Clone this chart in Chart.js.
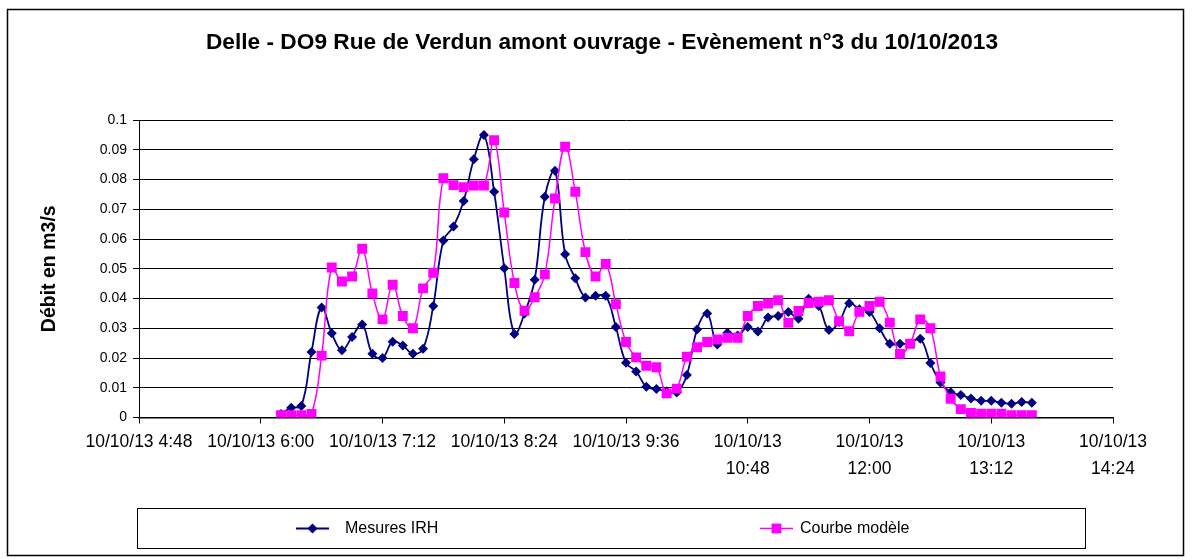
<!DOCTYPE html>
<html lang="fr">
<head>
<meta charset="utf-8">
<title>Delle - DO9 Rue de Verdun</title>
<script src="https://cdn.jsdelivr.net/npm/chart.js@4.4.0/dist/chart.umd.min.js"></script>
<style>
  html, body { margin: 0; padding: 0; background: #fff; }
  #cadre { position: relative; width: 1192px; height: 559px; }
</style>
</head>
<body>
<div id="cadre"><canvas id="graphique"></canvas></div>
<script>
const titre = "Delle - DO9 Rue de Verdun amont ouvrage - Evènement n°3 du 10/10/2013";
const titreAxeY = "Débit en m3/s";
const dateEvenement = "10/10/13";

// pas de 6 minutes entre deux mesures
const heures = [
  "6:12", "6:18", "6:24", "6:30", "6:36", "6:42", "6:48", "6:54",
  "7:00", "7:06", "7:12", "7:18", "7:24", "7:30", "7:36", "7:42", "7:48", "7:54",
  "8:00", "8:06", "8:12", "8:18", "8:24", "8:30", "8:36", "8:42", "8:48", "8:54",
  "9:00", "9:06", "9:12", "9:18", "9:24", "9:30", "9:36", "9:42", "9:48", "9:54",
  "10:00", "10:06", "10:12", "10:18", "10:24", "10:30", "10:36", "10:42", "10:48", "10:54",
  "11:00", "11:06", "11:12", "11:18", "11:24", "11:30", "11:36", "11:42", "11:48", "11:54",
  "12:00", "12:06", "12:12", "12:18", "12:24", "12:30", "12:36", "12:42", "12:48", "12:54",
  "13:00", "13:06", "13:12", "13:18", "13:24", "13:30", "13:36"
];

const mesuresIRH = [
  0.0012, 0.0033, 0.0039, 0.022, 0.037, 0.0283, 0.0226, 0.0271, 0.0313, 0.0214,
  0.020, 0.0255, 0.0242, 0.0214, 0.0231, 0.0375, 0.0595, 0.0642, 0.0728, 0.0868,
  0.095, 0.0759, 0.0502, 0.0281, 0.035, 0.0463, 0.0742, 0.0829, 0.0549, 0.0468,
  0.0403, 0.0409, 0.0409, 0.0304, 0.0184, 0.0155, 0.0103, 0.0096, 0.0088, 0.0084,
  0.0143, 0.0296, 0.035, 0.0245, 0.0285, 0.0276, 0.0304, 0.0289, 0.0336, 0.0341,
  0.0355, 0.0332, 0.0399, 0.0375, 0.0294, 0.0321, 0.0384, 0.0364, 0.0355, 0.030,
  0.0248, 0.0248, 0.0249, 0.0265, 0.0183, 0.0118, 0.0085, 0.0076, 0.0064, 0.0056,
  0.0056, 0.005, 0.0046, 0.0052, 0.005
];

const courbeModele = [
  0.0008, 0.0008, 0.0008, 0.0012, 0.0208, 0.0504, 0.0457, 0.0474, 0.0567, 0.0417,
  0.033, 0.0446, 0.0341, 0.030, 0.0434, 0.0486, 0.0804, 0.0781, 0.0774, 0.078,
  0.078, 0.0932, 0.0689, 0.0452, 0.0359, 0.0404, 0.0481, 0.0736, 0.091, 0.0759,
  0.0556, 0.0474, 0.0516, 0.0381, 0.0254, 0.0202, 0.0174, 0.0169, 0.0081, 0.0097,
  0.0204, 0.0236, 0.0254, 0.0262, 0.0268, 0.0268, 0.0341, 0.0375, 0.0383, 0.0394,
  0.0318, 0.0358, 0.0385, 0.0389, 0.0394, 0.0324, 0.029, 0.0355, 0.0375, 0.0389,
  0.0319, 0.0214, 0.0248, 0.033, 0.030, 0.0138, 0.0063, 0.0028, 0.0015, 0.0013,
  0.0013, 0.0013, 0.0008, 0.0008, 0.0008
];

const graduationsX = ["4:48", "6:00", "7:12", "8:24", "9:36", "10:48", "12:00", "13:12", "14:24"];
const graduationsY = [0, 0.01, 0.02, 0.03, 0.04, 0.05, 0.06, 0.07, 0.08, 0.09, 0.1];

const police = '"Liberation Sans", Arial, sans-serif';

function enMinutes(h) {
  const [hh, mm] = h.split(":").map(Number);
  return hh * 60 + mm;
}

function enPoints(valeurs) {
  return valeurs.map((v, i) => ({ x: enMinutes(heures[i]), y: v }));
}

// cadre, titre et légende dessinés autour du graphe
const habillage = {
  id: "habillage",
  afterDraw(chart) {
    const ctx = chart.ctx;
    ctx.save();
    ctx.strokeStyle = "#000";
    ctx.lineWidth = 1.5;
    ctx.strokeRect(7.5, 9.5, 1176, 546);

    ctx.fillStyle = "#000";
    ctx.font = "bold 22.7px " + police;
    ctx.textAlign = "center";
    ctx.textBaseline = "middle";
    ctx.fillText(titre, 602, 43);

    // boîte de légende
    ctx.lineWidth = 1;
    ctx.strokeRect(137.5, 508.5, 948, 40);
    const traits = [296, 760];
    const textes = [345, 800];
    chart.data.datasets.forEach((ds, i) => {
      const x0 = traits[i], y0 = 528.5;
      ctx.strokeStyle = ds.borderColor;
      ctx.lineWidth = ds.borderWidth;
      ctx.beginPath();
      ctx.moveTo(x0, y0);
      ctx.lineTo(x0 + 33, y0);
      ctx.stroke();
      ctx.fillStyle = ds.pointBackgroundColor;
      const cx = x0 + 16.5, r = ds.pointRadius;
      ctx.beginPath();
      if (ds.pointStyle === "rectRot") {
        ctx.moveTo(cx, y0 - r);
        ctx.lineTo(cx + r, y0);
        ctx.lineTo(cx, y0 + r);
        ctx.lineTo(cx - r, y0);
        ctx.closePath();
      } else {
        const c = r * Math.SQRT1_2;
        ctx.rect(cx - c, y0 - c, 2 * c, 2 * c);
      }
      ctx.fill();
      ctx.fillStyle = "#000";
      ctx.font = "16px " + police;
      ctx.textAlign = "left";
      ctx.fillText(ds.label, textes[i], y0);
    });
    ctx.restore();
  }
};

new Chart(document.getElementById("graphique"), {
  type: "line",
  data: {
    datasets: [
      {
        label: "Mesures IRH",
        data: enPoints(mesuresIRH),
        borderColor: "#000080",
        backgroundColor: "#000080",
        pointBackgroundColor: "#000080",
        pointBorderColor: "#000080",
        borderWidth: 1.8,
        pointStyle: "rectRot",
        pointRadius: 5,
        pointBorderWidth: 0,
        tension: 0.4,
        order: 1
      },
      {
        label: "Courbe modèle",
        data: enPoints(courbeModele),
        borderColor: "#FF00FF",
        backgroundColor: "#FF00FF",
        pointBackgroundColor: "#FF00FF",
        pointBorderColor: "#FF00FF",
        borderWidth: 1.5,
        pointStyle: "rect",
        pointRadius: 7,
        pointBorderWidth: 0,
        tension: 0.4,
        order: 0
      }
    ]
  },
  options: {
    responsive: true,
    maintainAspectRatio: false,
    animation: false,
    layout: { padding: { top: 120, right: 79, bottom: 0, left: 0 } },
    plugins: {
      legend: { display: false },
      title: { display: false },
      tooltip: { enabled: false }
    },
    scales: {
      x: {
        type: "linear",
        min: enMinutes(graduationsX[0]),
        max: enMinutes(graduationsX[graduationsX.length - 1]),
        afterFit: (axe) => { axe.height = 141.5; },
        afterBuildTicks: (axe) => {
          axe.ticks = graduationsX.map((g) => ({ value: enMinutes(g) }));
        },
        border: { display: true, color: "#000", width: 1.5 },
        grid: { drawOnChartArea: false, drawTicks: true, tickLength: 6, color: "#000" },
        ticks: {
          autoSkip: false,
          maxRotation: 0,
          minRotation: 0,
          padding: 5,
          color: "#000",
          font: { family: police, size: 17.5, lineHeight: 1.55 },
          callback: (valeur) => {
            const g = graduationsX.find((h) => enMinutes(h) === valeur);
            if (!g) return "";
            return valeur >= 600 ? [dateEvenement, g] : dateEvenement + " " + g;
          }
        }
      },
      y: {
        min: graduationsY[0],
        max: graduationsY[graduationsY.length - 1],
        afterFit: (axe) => { axe.width = 139; },
        afterBuildTicks: (axe) => {
          axe.ticks = graduationsY.map((v) => ({ value: v }));
        },
        border: { display: true, color: "#000", width: 1 },
        grid: { color: "#000", lineWidth: 1, drawTicks: true, tickLength: 6 },
        ticks: {
          padding: 6,
          color: "#000",
          font: { family: police, size: 14 },
          callback: (v) => String(Number(v.toFixed(2)))
        },
        title: {
          display: true,
          text: titreAxeY,
          color: "#000",
          font: { family: police, size: 19.5, weight: "bold", lineHeight: 1.2 },
          padding: { top: 38, bottom: 0 }
        }
      }
    }
  },
  plugins: [habillage]
});
</script>
</body>
</html>
